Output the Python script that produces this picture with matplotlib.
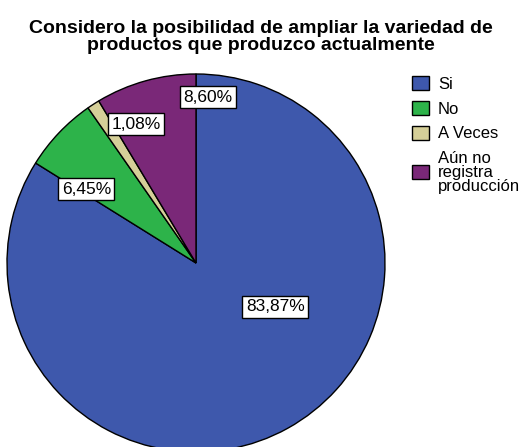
import numpy as np
import matplotlib.pyplot as plt
from matplotlib.patches import Patch

plt.rcParams['font.family'] = ['Liberation Sans', 'DejaVu Sans']

# data
categories = ['Si', 'No', 'A Veces', 'Aún no\nregistra\nproducción']
percents = [83.87, 6.45, 1.08, 8.60]
pct_labels = ['83,87%', '6,45%', '1,08%', '8,60%']
colors = ['#3e58ac', '#2db34a', '#d5cf98', '#7a2878']

# layout (pixels): pie center/radius, label anchor (angle deg, fraction of radius)
W, H = 521, 447
cx, cy, r = 196, H - 263, 189
label_pos = [(-29, 0.48), (146, 0.70), (113.4, 0.80), (86, 0.88)]

fig = plt.figure(figsize=(W / 100, H / 100), dpi=100)
ax = fig.add_axes([0, 0, 1, 1])

wedges, _ = ax.pie(percents, colors=colors, startangle=90, counterclock=False,
                   center=(cx, cy), radius=r,
                   wedgeprops=dict(edgecolor='black', linewidth=1.0))
ax.set_xlim(0, W)
ax.set_ylim(0, H)
ax.set_aspect('equal')
ax.axis('off')

# percentage labels in boxes
for lab, (ang, frac) in zip(pct_labels, label_pos):
    x = cx + frac * r * np.cos(np.radians(ang))
    y = cy + frac * r * np.sin(np.radians(ang))
    ax.text(x, y, lab, ha='center', va='center', fontsize=12.5,
            bbox=dict(boxstyle='square,pad=0.2', fc='white', ec='black', lw=1.0))

# title
fig.text(0.5, 1 - 37 / H,
         'Considero la posibilidad de ampliar la variedad de\nproductos que produzco actualmente',
         ha='center', va='center', fontsize=14, fontweight='bold', linespacing=1.0)

# legend
handles = [Patch(facecolor=c, edgecolor='black', linewidth=1.0) for c in colors]
leg = fig.legend(handles, categories, loc='upper left',
                 bbox_to_anchor=(412 / W, 1 - 76 / H), frameon=False,
                 fontsize=12, handlelength=1.0, handleheight=0.9,
                 handletextpad=0.55, labelspacing=0.55, borderpad=0, borderaxespad=0)
for t in leg.get_texts():
    t.set_linespacing(0.93)

fig.savefig('out.png', dpi=100)
